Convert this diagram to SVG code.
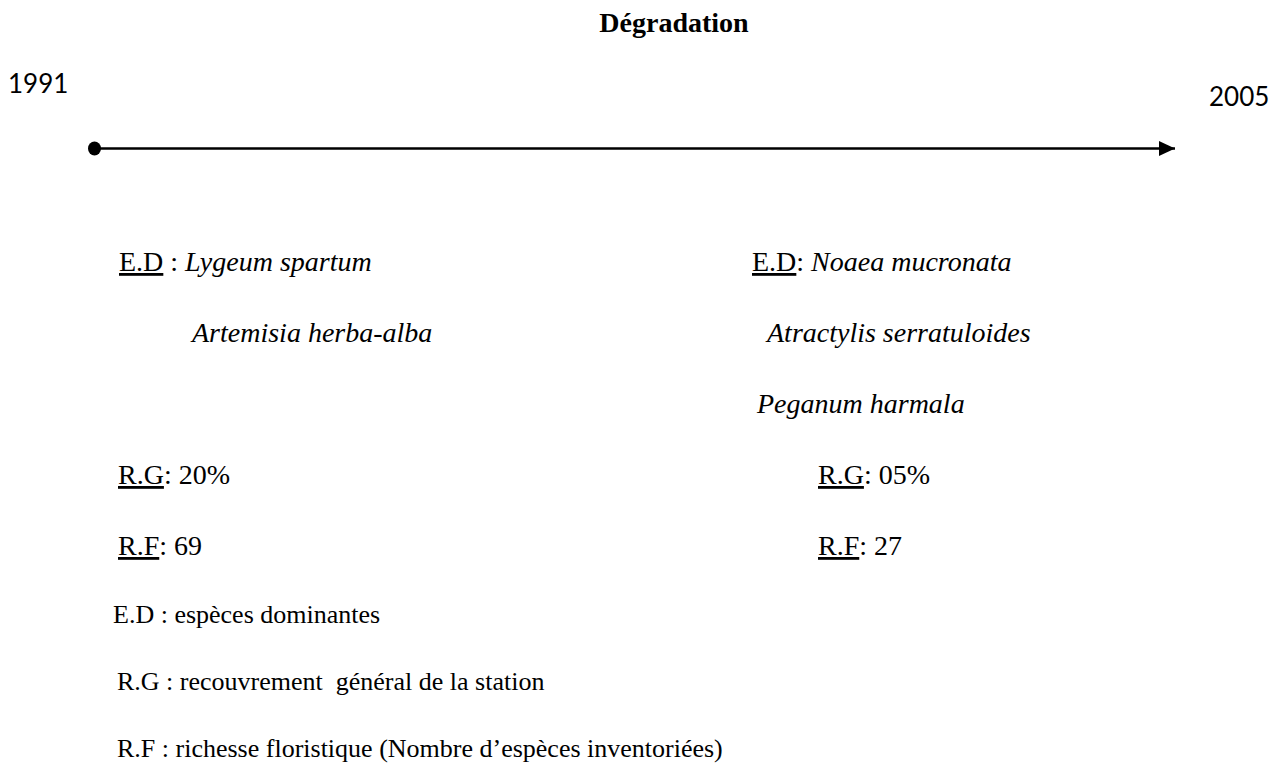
<svg xmlns="http://www.w3.org/2000/svg" width="1281" height="767" viewBox="0 0 1281 767">
<style>
text{font-family:"Liberation Serif","Times New Roman",serif;font-size:28px;fill:#000}
.i{font-style:italic}
.u{text-decoration:underline}
.leg{font-size:26px}
.title{font-weight:bold;font-size:28px}
.year{font-family:Lato,"Open Sans","Liberation Sans",sans-serif;font-size:26px}
</style>
<defs>
<marker id="arr" markerWidth="18" markerHeight="16" refX="16" refY="7.5" orient="auto" markerUnits="userSpaceOnUse"><path d="M0,0 L16,7.5 L0,15 Z" fill="#000"/></marker>
</defs>
<rect width="1281" height="767" fill="#fff"/>
<g id="title"><text class="title" x="674" y="32" text-anchor="middle">Dégradation</text></g>
<g id="y1991"><text class="year" x="8" y="93">1991</text></g>
<g id="y2005"><text class="year" x="1209" y="106">2005</text></g>
<g id="connectors">
<ellipse cx="94.5" cy="148.5" rx="6.5" ry="7" fill="#000"/>
<line x1="95" y1="148.5" x2="1175" y2="148.5" stroke="#000" stroke-width="2.5" marker-end="url(#arr)"/>
</g>
<g id="left">
<text x="119" y="271"><tspan class="u">E.D</tspan> : <tspan class="i">Lygeum spartum</tspan></text>
<text class="i" x="192" y="342">Artemisia herba-alba</text>
<text x="118" y="484"><tspan class="u">R.G</tspan>: 20%</text>
<text x="118" y="555"><tspan class="u">R.F</tspan>: 69</text>
</g>
<g id="right">
<text x="752" y="271"><tspan class="u">E.D</tspan>: <tspan class="i">Noaea mucronata</tspan></text>
<text class="i" x="767" y="342">Atractylis serratuloides</text>
<text class="i" x="757" y="413">Peganum harmala</text>
<text x="818" y="484"><tspan class="u">R.G</tspan>: 05%</text>
<text x="818" y="555"><tspan class="u">R.F</tspan>: 27</text>
</g>
<g id="legend">
<text class="leg" x="113" y="623">E.D : espèces dominantes</text>
<text class="leg" x="117" y="690" xml:space="preserve">R.G : recouvrement  général de la station</text>
<text class="leg" x="117" y="757">R.F : richesse floristique (Nombre d’espèces inventoriées)</text>
</g>
</svg>
